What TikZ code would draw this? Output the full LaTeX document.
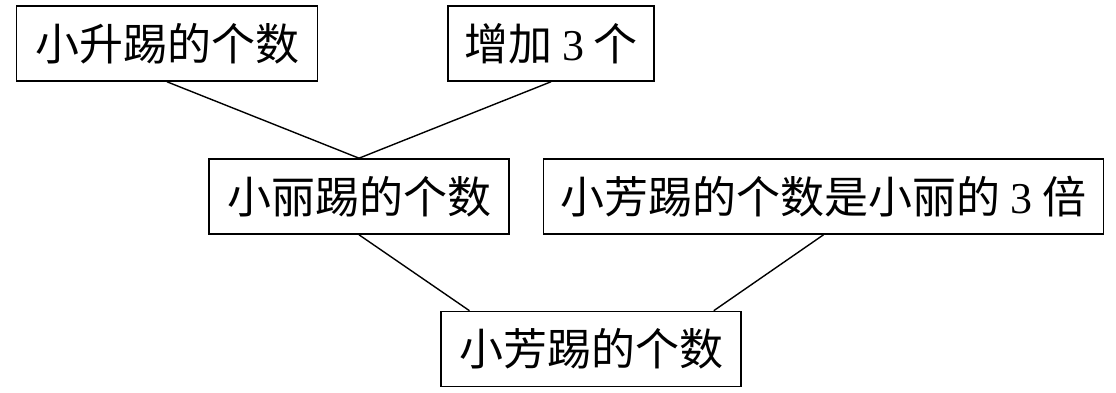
\documentclass[tikz,border=0pt]{standalone}
\usepackage{fontspec}
\setmainfont{Liberation Serif}
\newfontfamily\cjk{Noto Sans CJK SC}
\usetikzlibrary{calc}

\begin{document}
\begin{tikzpicture}[
    x=1pt, y=1pt,
    qbox/.style={draw, line width=1.6pt, inner sep=0pt, minimum height=75pt, minimum width=#1, align=center, font=\cjk\fontsize{44}{50}\selectfont},
    link/.style={line width=1.4pt}
]
\useasboundingbox (0,0) rectangle (1116,393);
\node[qbox=301pt] (xiaosheng) at (167,349.5) {小升踢的个数};
\node[qbox=206pt] (zengjia) at (551,349.5) {增加 {\rmfamily 3} 个};
\node[qbox=300pt] (xiaoli) at (359,196.5) {小丽踢的个数};
\node[qbox=560pt] (beishu) at (823.5,196.5) {小芳踢的个数是小丽的 {\rmfamily 3} 倍};
\node[qbox=300pt] (xiaofang) at (591,44) {小芳踢的个数};

\draw[link] (xiaosheng.south) -- (xiaoli.north);
\draw[link] (zengjia.south) -- (xiaoli.north);
\draw[link] (xiaoli.south) -- ($(xiaofang.north west)!0.097!(xiaofang.north east)$);
\draw[link] (beishu.south) -- ($(xiaofang.north east)!0.093!(xiaofang.north west)$);
\end{tikzpicture}
\end{document}
